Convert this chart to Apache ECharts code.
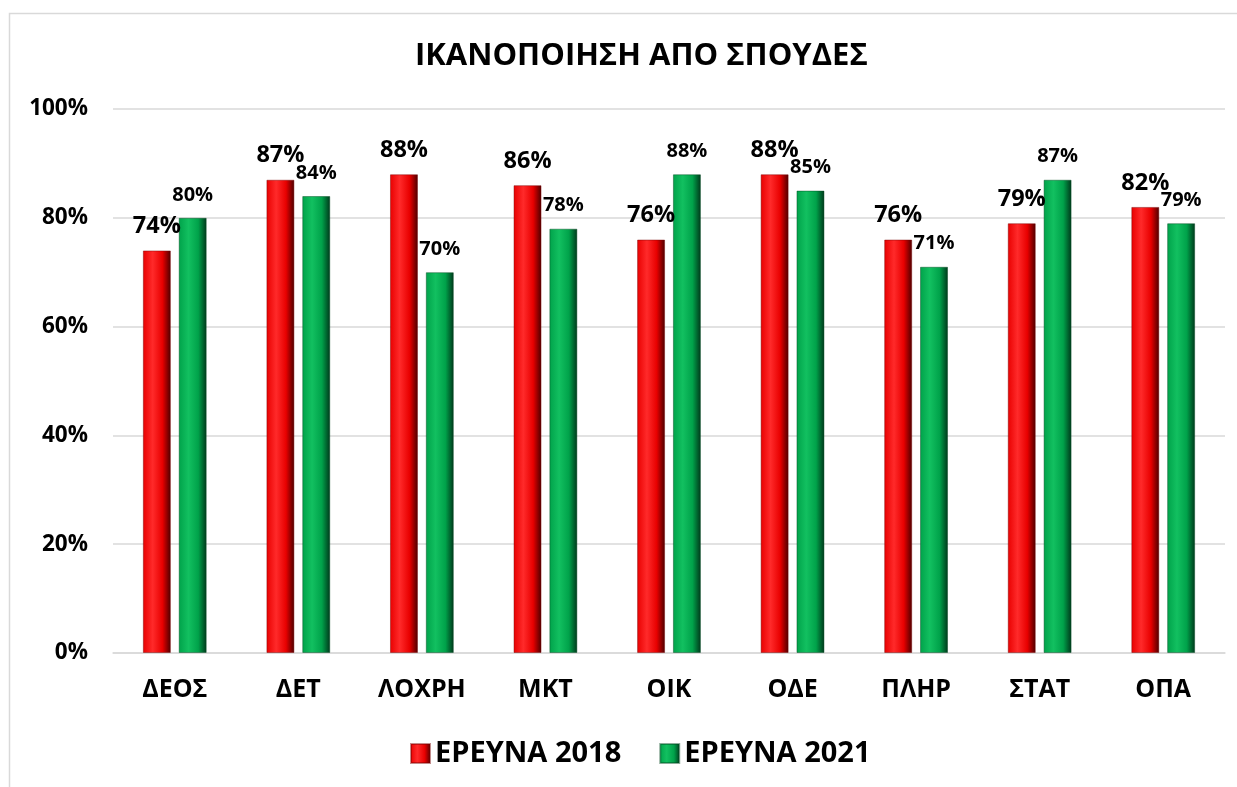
<!DOCTYPE html>
<html><head><meta charset="utf-8">
<script src="https://cdn.jsdelivr.net/npm/echarts@6/dist/echarts.min.js"></script>
<style>html,body{margin:0;padding:0;background:#fff;}#c{width:1237px;height:787px;}</style>
</head><body><div id="c"></div>
<script>
const categories = ['ΔΕΟΣ','ΔΕΤ','ΛΟΧΡΗ','ΜΚΤ','ΟΙΚ','ΟΔΕ','ΠΛΗΡ','ΣΤΑΤ','ΟΠΑ'];
const survey2018 = [74, 87, 88, 86, 76, 88, 76, 79, 82];
const survey2021 = [80, 84, 70, 78, 88, 85, 71, 87, 79];
const yTicks = [0, 20, 40, 60, 80, 100];

const FONT = '"Open Sans", "Noto Sans", sans-serif';
function grad(c1, c2, c3) {
  return new echarts.graphic.LinearGradient(0, 0, 1, 0, [
    {offset: 0, color: c1}, {offset: 0.35, color: c2}, {offset: 0.7, color: c1}, {offset: 1, color: c3}
  ]);
}
const redFill = grad('#e80000', '#ff2a2a', '#4a0000');
const greenFill = grad('#00a24a', '#12c060', '#00361a');

const chart = echarts.init(document.getElementById('c'));
chart.setOption({
  backgroundColor: '#fff',
  animation: false,
  graphic: [{type: 'rect', shape: {x: 9.5, y: 13.5, width: 1400, height: 900}, style: {fill: 'none', stroke: '#d9d9d9', lineWidth: 1.5}, z: -1}],
  title: {text: 'ΙΚΑΝΟΠΟΙΗΣΗ ΑΠΟ ΣΠΟΥΔΕΣ', left: 410, top: 36,
    textStyle: {fontFamily: FONT, fontWeight: 'bold', fontSize: 31, color: '#000'}},
  legend: {bottom: 14, left: 405, itemWidth: 19, itemHeight: 19, itemGap: 38,
    textStyle: {fontFamily: FONT, fontWeight: 'bold', fontSize: 29, color: '#000'},
    data: [{name: 'ΕΡΕΥΝΑ 2018', icon: 'rect', itemStyle: {color: redFill}}, {name: 'ΕΡΕΥΝΑ 2021', icon: 'rect', itemStyle: {color: greenFill}}]},
  grid: {left: 113, right: 12, top: 109, bottom: 134},
  xAxis: {type: 'category', data: categories,
    axisLine: {lineStyle: {color: '#d9d9d9', width: 1.5}}, axisTick: {show: false},
    axisLabel: {fontFamily: FONT, fontWeight: 'bold', fontSize: 25, color: '#000', margin: 24}},
  yAxis: {type: 'value', min: 0, max: 100, interval: 20,
    axisLine: {show: false}, axisTick: {show: false},
    splitLine: {lineStyle: {color: '#d9d9d9', width: 1.5}},
    axisLabel: {fontFamily: FONT, fontWeight: 'bold', fontSize: 22.5, color: '#000', margin: 25,
      formatter: v => yTicks.includes(v) ? v + '%' : ''}},
  series: [
    {name: 'ΕΡΕΥΝΑ 2018', type: 'bar', data: survey2018, barWidth: 28, barGap: '28%',
      itemStyle: {color: redFill, borderColor: 'rgba(120,0,0,0.45)', borderWidth: 1},
      label: {show: true, position: 'top', distance: 12, formatter: '{c}%',
        fontFamily: FONT, fontWeight: 'bold', fontSize: 23.5, color: '#000'}},
    {name: 'ΕΡΕΥΝΑ 2021', type: 'bar', data: survey2021, barWidth: 28,
      itemStyle: {color: greenFill, borderColor: 'rgba(0,70,30,0.45)', borderWidth: 1},
      label: {show: true, position: 'top', distance: 13, formatter: '{c}%',
        fontFamily: FONT, fontWeight: 'bold', fontSize: 20, color: '#000'}}
  ]
});
</script></body></html>
